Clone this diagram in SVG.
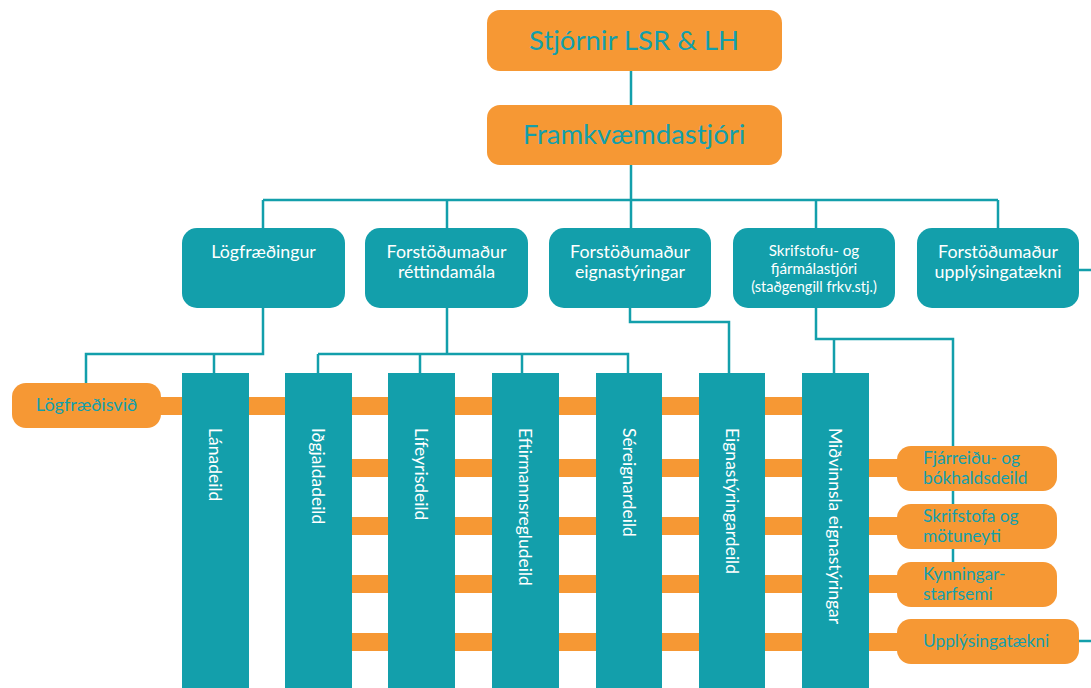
<svg xmlns="http://www.w3.org/2000/svg" width="1091" height="688" viewBox="0 0 1091 688">
<style>
.teal{fill:#139fab}
.org{fill:#f69834}
.ln{fill:none;stroke:#139fab;stroke-width:2.5}
.strip{fill:#f69834}
.tw{font-family:Lato,"Open Sans",sans-serif;fill:#ffffff}
.tt{font-family:Lato,"Open Sans",sans-serif;fill:#139fab}
.big{font-size:27.5px;text-anchor:middle}
.mid{font-size:17.8px;text-anchor:middle}
.sk{font-size:15.2px;text-anchor:middle}
.sm{font-size:14.5px;text-anchor:middle}
.bar{font-size:17.5px}
.side{font-size:17.3px}
</style>
<rect width="1091" height="688" fill="#ffffff"/>
<g id="connectors">
<path class="ln" d="M631 71V105M631 165V228M263 200H998M263 200V228M447 200V228M816 200V228M998 200V228"/>
<path class="ln" d="M263 308V354H86V383M214 354V374"/>
<path class="ln" d="M447 308V354M318 354H628V374M318 354V374M420 354V374M522 354V374"/>
<path class="ln" d="M630 308V322H729V374"/>
<path class="ln" d="M816 308V339H953V565M834 339V374"/>
<path class="ln" d="M1079 270H1091M1079 641H1091"/>
<rect class="strip" x="150" y="397" width="690" height="18"/>
<rect class="strip" x="330" y="459" width="580" height="18"/>
<rect class="strip" x="330" y="517" width="580" height="18"/>
<rect class="strip" x="330" y="575" width="580" height="18"/>
<rect class="strip" x="330" y="633" width="580" height="18"/>
</g>
<g id="n-stjornir"><rect class="org" x="487" y="10" width="295" height="61" rx="13"/><text class="tt big" x="634" y="50">Stjórnir LSR &amp; LH</text></g>
<g id="n-framkv"><rect class="org" x="487" y="105" width="295" height="60" rx="13"/><text class="tt big" x="634" y="144">Framkvæmdastjóri</text></g>
<g id="n-logfr"><rect class="teal" x="182" y="228" width="163" height="80" rx="15"/><text class="tw mid" x="263.5" y="258">Lögfræðingur</text></g>
<g id="n-rett"><rect class="teal" x="365" y="228" width="163" height="80" rx="15"/><text class="tw mid" x="446.5" y="258">Forstöðumaður</text><text class="tw mid" x="446.5" y="278">réttindamála</text></g>
<g id="n-eign"><rect class="teal" x="549" y="228" width="162" height="80" rx="15"/><text class="tw mid" x="630" y="258">Forstöðumaður</text><text class="tw mid" x="630" y="278">eignastýringar</text></g>
<g id="n-skrif"><rect class="teal" x="733" y="228" width="162" height="80" rx="15"/><text class="tw sk" x="814" y="256">Skrifstofu- og</text><text class="tw sk" x="814" y="274">fjármálastjóri</text><text class="tw sm" x="814" y="292">(staðgengill frkv.stj.)</text></g>
<g id="n-upplt"><rect class="teal" x="917" y="228" width="162" height="80" rx="15"/><text class="tw mid" x="998" y="258">Forstöðumaður</text><text class="tw mid" x="998" y="278">upplýsingatækni</text></g>
<g id="n-logsvid"><rect class="org" x="12" y="383" width="149" height="45" rx="14"/><text class="tt mid" x="86.5" y="411" style="font-size:18px">Lögfræðisvið</text></g>
<g id="b-lan"><rect class="teal" x="182" y="373" width="67" height="315"/><text class="tw bar" transform="translate(209,428) rotate(90)">Lánadeild</text></g>
<g id="b-idg"><rect class="teal" x="285" y="373" width="67" height="315"/><text class="tw bar" transform="translate(312,428) rotate(90)">Iðgjaldadeild</text></g>
<g id="b-lif"><rect class="teal" x="388" y="373" width="67" height="315"/><text class="tw bar" transform="translate(415,428) rotate(90)">Lífeyrisdeild</text></g>
<g id="b-eft"><rect class="teal" x="492" y="373" width="67" height="315"/><text class="tw bar" transform="translate(519,428) rotate(90)">Eftirmannsregludeild</text></g>
<g id="b-ser"><rect class="teal" x="596" y="373" width="66" height="315"/><text class="tw bar" transform="translate(623,428) rotate(90)">Séreignardeild</text></g>
<g id="b-eignd"><rect class="teal" x="699" y="373" width="66" height="315"/><text class="tw bar" transform="translate(726,428) rotate(90)">Eignastýringardeild</text></g>
<g id="b-mid"><rect class="teal" x="802" y="373" width="67" height="315"/><text class="tw bar" transform="translate(829,428) rotate(90)">Miðvinnsla eignastýringar</text></g>
<g id="n-fjar"><rect class="org" x="897" y="446" width="160" height="45" rx="14"/><text class="tt side" x="923" y="464">Fjárreiðu- og</text><text class="tt side" x="923" y="484">bókhaldsdeild</text></g>
<g id="n-skrifst"><rect class="org" x="897" y="504" width="160" height="45" rx="14"/><text class="tt side" x="923" y="522">Skrifstofa og</text><text class="tt side" x="923" y="542">mötuneyti</text></g>
<g id="n-kynn"><rect class="org" x="897" y="562" width="160" height="45" rx="14"/><text class="tt side" x="923" y="580">Kynningar-</text><text class="tt side" x="923" y="600">starfsemi</text></g>
<g id="n-uppl"><rect class="org" x="897" y="619" width="182" height="45" rx="14"/><text class="tt side" x="923" y="647">Upplýsingatækni</text></g>
</svg>
